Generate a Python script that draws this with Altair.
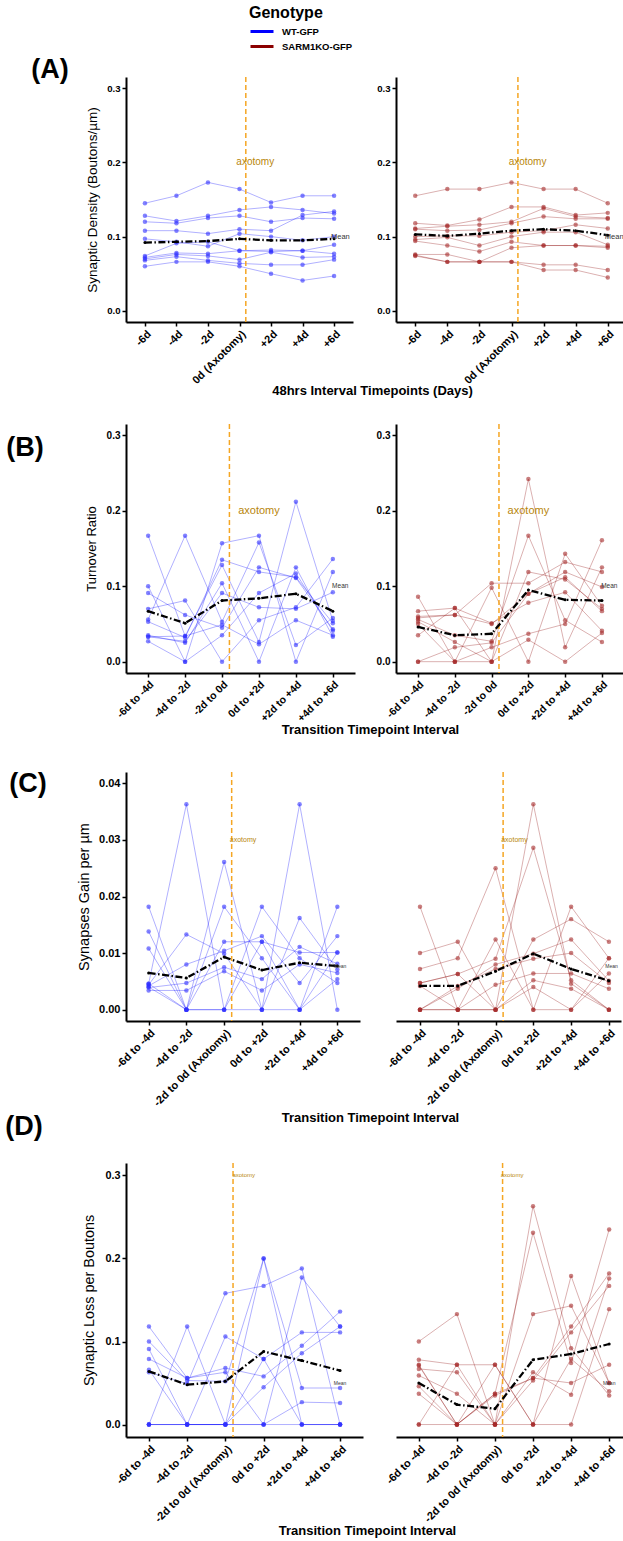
import altair as alt
import pandas as pd

FONT = "Liberation Sans"
GENOTYPES = ["WT-GFP", "SARM1KO-GFP"]
GENO_COLORS = ["#0000FF", "#8B0000"]
POINT_COLORS = {"WT-GFP": "#2F2FFF", "SARM1KO-GFP": "#A52A2A"}
AXOTOMY_COLOR = "#F5A623"
AXOTOMY_TEXT = "#B8860B"

DAY_LABELS = ["-6d", "-4d", "-2d", "0d (Axotomy)", "+2d", "+4d", "+6d"]
TURNOVER_LABELS = ["-6d to -4d", "-4d to -2d", "-2d to 0d", "0d to +2d", "+2d to +4d", "+4d to +6d"]
INTERVAL_LABELS = ["-6d to -4d", "-4d to -2d", "-2d to 0d (Axotomy)", "0d to +2d", "+2d to +4d", "+4d to +6d"]

# (A) synaptic density per axon, one list per axon across the seven imaging days
density_wt = [
    [0.145, 0.155, 0.173, 0.164, 0.146, 0.155, 0.155],
    [0.128, 0.121, 0.128, 0.136, 0.140, 0.136, 0.131],
    [0.120, 0.118, 0.125, 0.128, 0.120, 0.125, 0.124],
    [0.108, 0.108, 0.104, 0.110, 0.108, 0.129, 0.134],
    [0.097, 0.093, 0.087, 0.104, 0.100, 0.095, 0.100],
    [0.074, 0.091, 0.093, 0.081, 0.082, 0.081, 0.089],
    [0.072, 0.078, 0.077, 0.081, 0.080, 0.081, 0.077],
    [0.070, 0.076, 0.074, 0.069, 0.079, 0.072, 0.073],
    [0.068, 0.073, 0.068, 0.064, 0.062, 0.062, 0.069],
    [0.060, 0.066, 0.066, 0.060, 0.050, 0.041, 0.047],
]
density_ko = [
    [0.155, 0.164, 0.164, 0.173, 0.164, 0.164, 0.145],
    [0.118, 0.115, 0.123, 0.140, 0.140, 0.129, 0.132],
    [0.111, 0.114, 0.116, 0.120, 0.138, 0.127, 0.125],
    [0.110, 0.108, 0.109, 0.118, 0.127, 0.124, 0.124],
    [0.100, 0.101, 0.101, 0.106, 0.108, 0.116, 0.111],
    [0.096, 0.099, 0.088, 0.100, 0.106, 0.106, 0.089],
    [0.094, 0.088, 0.080, 0.093, 0.088, 0.088, 0.087],
    [0.076, 0.076, 0.066, 0.085, 0.088, 0.088, 0.085],
    [0.075, 0.066, 0.066, 0.066, 0.062, 0.062, 0.055],
    [0.074, 0.066, 0.066, 0.066, 0.055, 0.055, 0.045],
]
density_wt_mean = [0.092, 0.093, 0.094, 0.097, 0.095, 0.095, 0.097]
density_ko_mean = [0.103, 0.101, 0.104, 0.108, 0.110, 0.108, 0.102]

# (B) turnover ratio per 48 h interval
turnover_wt = [
    [0.167, 0.034, 0.128, 0.026, 0.212, 0.054],
    [0.100, 0.000, 0.157, 0.167, 0.000, 0.119],
    [0.091, 0.062, 0.045, 0.125, 0.111, 0.043],
    [0.070, 0.081, 0.000, 0.055, 0.072, 0.136],
    [0.056, 0.167, 0.053, 0.158, 0.022, 0.058],
    [0.053, 0.032, 0.135, 0.119, 0.112, 0.051],
    [0.035, 0.025, 0.104, 0.000, 0.125, 0.033],
    [0.033, 0.027, 0.091, 0.072, 0.070, 0.092],
    [0.027, 0.000, 0.035, 0.091, 0.117, 0.041],
    [0.033, 0.034, 0.049, 0.023, 0.055, 0.035],
]
turnover_ko = [
    [0.086, 0.000, 0.098, 0.000, 0.143, 0.074],
    [0.067, 0.071, 0.000, 0.242, 0.019, 0.125],
    [0.058, 0.062, 0.104, 0.104, 0.132, 0.119],
    [0.056, 0.035, 0.027, 0.167, 0.055, 0.026],
    [0.053, 0.026, 0.000, 0.119, 0.109, 0.070],
    [0.035, 0.071, 0.051, 0.078, 0.092, 0.041],
    [0.000, 0.019, 0.025, 0.090, 0.119, 0.099],
    [0.000, 0.000, 0.019, 0.037, 0.050, 0.161],
    [0.060, 0.062, 0.050, 0.090, 0.112, 0.067],
    [0.050, 0.000, 0.000, 0.029, 0.000, 0.038],
]
turnover_wt_mean = [0.067, 0.051, 0.081, 0.084, 0.090, 0.067]
turnover_ko_mean = [0.046, 0.035, 0.037, 0.095, 0.082, 0.081]

# (C) synapses gained per micrometre per interval
gain_wt = [
    [0.0182, 0.0000, 0.0261, 0.0000, 0.0363, 0.0000],
    [0.0138, 0.0000, 0.0120, 0.0120, 0.0101, 0.0101],
    [0.0108, 0.0000, 0.0182, 0.0091, 0.0000, 0.0182],
    [0.0046, 0.0363, 0.0000, 0.0182, 0.0091, 0.0047],
    [0.0044, 0.0133, 0.0099, 0.0000, 0.0162, 0.0071],
    [0.0042, 0.0080, 0.0104, 0.0130, 0.0047, 0.0130],
    [0.0039, 0.0047, 0.0075, 0.0054, 0.0111, 0.0081],
    [0.0034, 0.0034, 0.0068, 0.0034, 0.0080, 0.0065],
    [0.0046, 0.0000, 0.0000, 0.0120, 0.0000, 0.0054],
    [0.0040, 0.0000, 0.0000, 0.0000, 0.0000, 0.0101],
]
gain_ko = [
    [0.0182, 0.0000, 0.0124, 0.0000, 0.0182, 0.0091],
    [0.0100, 0.0120, 0.0000, 0.0363, 0.0046, 0.0000],
    [0.0072, 0.0091, 0.0250, 0.0000, 0.0000, 0.0064],
    [0.0047, 0.0063, 0.0090, 0.0286, 0.0052, 0.0000],
    [0.0042, 0.0000, 0.0000, 0.0124, 0.0160, 0.0120],
    [0.0000, 0.0037, 0.0080, 0.0099, 0.0124, 0.0051],
    [0.0000, 0.0042, 0.0072, 0.0090, 0.0100, 0.0047],
    [0.0000, 0.0000, 0.0044, 0.0064, 0.0064, 0.0037],
    [0.0047, 0.0063, 0.0000, 0.0052, 0.0037, 0.0000],
    [0.0000, 0.0000, 0.0000, 0.0040, 0.0000, 0.0091],
]
gain_wt_mean = [0.0065, 0.0056, 0.0093, 0.0070, 0.0083, 0.0077]
gain_ko_mean = [0.0042, 0.0042, 0.0068, 0.0099, 0.0072, 0.0051]

# (D) synapses lost per bouton per interval
loss_wt = [
    [0.063, 0.049, 0.158, 0.167, 0.188, 0.000],
    [0.000, 0.000, 0.000, 0.000, 0.000, 0.000],
    [0.000, 0.118, 0.000, 0.200, 0.044, 0.044],
    [0.118, 0.056, 0.063, 0.000, 0.177, 0.118],
    [0.100, 0.053, 0.052, 0.200, 0.000, 0.000],
    [0.091, 0.000, 0.106, 0.079, 0.111, 0.111],
    [0.079, 0.056, 0.068, 0.058, 0.095, 0.136],
    [0.066, 0.000, 0.000, 0.045, 0.086, 0.118],
    [0.000, 0.000, 0.000, 0.000, 0.027, 0.026],
    [0.000, 0.000, 0.000, 0.079, 0.000, 0.000],
]
loss_ko = [
    [0.100, 0.133, 0.000, 0.263, 0.092, 0.035],
    [0.078, 0.072, 0.072, 0.000, 0.179, 0.050],
    [0.072, 0.000, 0.037, 0.231, 0.074, 0.235],
    [0.067, 0.063, 0.000, 0.133, 0.143, 0.050],
    [0.071, 0.000, 0.035, 0.056, 0.118, 0.182],
    [0.059, 0.037, 0.000, 0.063, 0.036, 0.176],
    [0.046, 0.000, 0.000, 0.053, 0.111, 0.167],
    [0.037, 0.000, 0.072, 0.000, 0.000, 0.139],
    [0.000, 0.072, 0.000, 0.000, 0.079, 0.040],
    [0.000, 0.000, 0.037, 0.056, 0.050, 0.072],
]
loss_wt_mean = [0.064, 0.048, 0.052, 0.088, 0.077, 0.065]
loss_ko_mean = [0.050, 0.024, 0.019, 0.078, 0.085, 0.097]


def long_table(series, genotype):
    rows = []
    for i, vals in enumerate(series):
        for j, v in enumerate(vals):
            rows.append({"subject": f"{genotype}-{i + 1}", "t": j + 1, "value": v, "genotype": genotype})
    return pd.DataFrame(rows)


def mean_table(vals):
    return pd.DataFrame({"t": list(range(1, len(vals) + 1)), "value": vals})


COLOR = alt.Color(
    "genotype:N",
    scale=alt.Scale(domain=GENOTYPES, range=GENO_COLORS),
    legend=alt.Legend(
        title="Genotype", orient="none", legendX=123, legendY=-72,
        symbolType="stroke", symbolSize=529, symbolStrokeWidth=3, symbolOpacity=1,
        clipHeight=13, rowPadding=2, labelOffset=7, padding=0,
        labelFont=FONT, labelFontSize=9.5, labelFontWeight="bold", labelColor="black",
        titleFont=FONT, titleFontSize=16, titleFontWeight="bold", titleColor="black",
        titlePadding=4,
    ),
)


def panel(series, mean, geno, labels, width, height, ydom, yticks, yfmt,
          axo_x, axo_txt, mean_txt, xdom=None, show_y=True, y_title=None,
          tag=None, x_title=None, ylab_size=10, xlab_size=11):
    n = len(labels)
    if xdom is None:
        xdom = [0.4, n + 0.6]
    label_expr = "[" + ",".join(f"'{s}'" for s in labels) + "][datum.value - 1]"
    xkw = dict(
        values=list(range(1, n + 1)), labelExpr=label_expr, labelAngle=-45,
        labelAlign="right", labelBaseline="top", labelOverlap=False, labelFlush=False,
        labelFontSize=xlab_size, labelPadding=2, grid=False,
    )
    if x_title is not None:
        xkw.update(title=x_title[0], titleX=x_title[1], titleY=x_title[2],
                   titleAlign="center", titleBaseline="middle", titleFontSize=13,
                   titleFontWeight="bold", titleColor="black")
    else:
        xkw["title"] = None
    X = alt.X("t:Q", scale=alt.Scale(domain=xdom, nice=False, zero=False), axis=alt.Axis(**xkw))

    if show_y:
        ykw = dict(values=yticks, format=yfmt, labelFlush=False, grid=False,
                   labelFontSize=ylab_size, labelPadding=2)
        if y_title is not None:
            ykw.update(title=y_title[0], titlePadding=y_title[1], titleFontSize=y_title[2],
                       titleFontWeight="normal", titleColor="black")
        else:
            ykw["title"] = None
        y_axis = alt.Axis(**ykw)
    else:
        y_axis = None
    Y = alt.Y("value:Q", scale=alt.Scale(domain=ydom, nice=False, zero=False), axis=y_axis)

    subj = long_table(series, geno)
    means = mean_table(mean)

    lines = alt.Chart(subj).mark_line(strokeWidth=0.9, opacity=0.35).encode(
        x=X, y=Y, detail="subject:N", color=COLOR)
    points = alt.Chart(subj).mark_circle(size=20, opacity=0.6, color=POINT_COLORS[geno]).encode(x=X, y=Y)
    axo = alt.Chart(pd.DataFrame({"t": [axo_x]})).mark_rule(
        color=AXOTOMY_COLOR, strokeDash=[5, 3], strokeWidth=1.5).encode(x=X)
    mean_line = alt.Chart(means).mark_line(
        color="black", strokeWidth=2.3, strokeDash=[7, 2.5, 1.5, 2.5]).encode(x=X, y=Y)
    mean_pts = alt.Chart(means).mark_circle(color="black", size=9, opacity=1).encode(x=X, y=Y)
    axo_label = alt.Chart(pd.DataFrame({"t": [axo_txt[0]], "value": [axo_txt[1]], "txt": ["axotomy"]})).mark_text(
        color=AXOTOMY_TEXT, fontSize=axo_txt[2], font=FONT).encode(x=X, y=Y, text="txt:N")
    mean_label = alt.Chart(pd.DataFrame({"t": [mean_txt[0]], "value": [mean_txt[1]], "txt": ["Mean"]})).mark_text(
        color="#333333", fontSize=mean_txt[2], font=FONT).encode(x=X, y=Y, text="txt:N")

    layers = [lines, points, axo, mean_line, mean_pts, axo_label, mean_label]
    if tag is not None:
        layers.append(
            alt.Chart(pd.DataFrame({"txt": [tag[0]]})).mark_text(
                fontSize=27, fontWeight="bold", font=FONT, color="black",
                align="center", baseline="middle").encode(
                x=alt.value(tag[1]), y=alt.value(tag[2]), text="txt:N"))
    return alt.layer(*layers).properties(width=width, height=height)


def spacer(w, h):
    return alt.Chart(pd.DataFrame({"t": [0]})).mark_point(opacity=0).encode(
        x=alt.X("t:Q", axis=None), y=alt.Y("t:Q", axis=None)).properties(width=w, height=h)


Y03 = [-0.015, 0.315]
T03 = [0.0, 0.1, 0.2, 0.3]
Y04 = [-0.002, 0.042]
T04 = [0.0, 0.01, 0.02, 0.03, 0.04]

a_left = panel(density_wt, density_wt_mean, "WT-GFP", DAY_LABELS, 227, 245, Y03, T03, ".1f",
               4.2, (4.5, 0.2, 10), (7.2, 0.1, 7.5),
               y_title=("Synaptic Density (Boutons/\u00b5m)", 7, 13.5), tag=("(A)", -76, -7),
               x_title=("48hrs Interval Timepoints (Days)", 246, 68), ylab_size=9.6)
a_right = panel(density_ko, density_ko_mean, "SARM1KO-GFP", DAY_LABELS, 231, 245, Y03, T03, ".1f",
                4.2, (4.5, 0.2, 10), (7.2, 0.1, 7.5), ylab_size=9.6)

b_left = panel(turnover_wt, turnover_wt_mean, "WT-GFP", TURNOVER_LABELS, 229, 249, Y03, T03, ".1f",
               3.2, (4.0, 0.2, 11), (6.2, 0.1, 6.5),
               y_title=("Turnover Ratio", 8, 13), tag=("(B)", -101, 24),
               x_title=("Transition Timepoint Interval", 244, 56), ylab_size=10, xlab_size=10.5)
b_right = panel(turnover_ko, turnover_ko_mean, "SARM1KO-GFP", TURNOVER_LABELS, 228, 249, Y03, T03, ".1f",
                3.2, (4.0, 0.2, 11), (6.2, 0.1, 6.5), ylab_size=10, xlab_size=10.5)

c_left = panel(gain_wt, gain_wt_mean, "WT-GFP", INTERVAL_LABELS, 234, 249, Y04, T04, ".2f",
               3.2, (3.5, 0.03, 7), (6.07, 0.0078, 5),
               y_title=("Synapses Gain per \u00b5m", 7, 14.5), tag=("(C)", -98, 12),
               x_title=("Transition Timepoint Interval", 244, 96), ylab_size=11)
c_right = panel(gain_ko, gain_ko_mean, "SARM1KO-GFP", INTERVAL_LABELS, 225, 249, Y04, T04, ".2f",
                3.2, (3.5, 0.03, 7), (6.07, 0.0078, 5), xdom=[0.365, 6.32], show_y=False)

d_left = panel(loss_wt, loss_wt_mean, "WT-GFP", INTERVAL_LABELS, 237, 274, Y03, T03, ".1f",
               3.2, (3.48, 0.3, 6), (6.0, 0.05, 5),
               y_title=("Synaptic Loss per Boutons", 8, 14.4), tag=("(D)", -102, -36),
               x_title=("Transition Timepoint Interval", 241, 93), ylab_size=10.8)
d_right = panel(loss_ko, loss_ko_mean, "SARM1KO-GFP", INTERVAL_LABELS, 236, 274, Y03, T03, ".1f",
                3.2, (3.45, 0.3, 6), (6.0, 0.05, 5), show_y=False)

cells = [
    a_left, spacer(33, 245), a_right,
    spacer(227, 102), spacer(33, 102), spacer(231, 102),
    b_left, spacer(32, 249), b_right,
    spacer(229, 99), spacer(32, 99), spacer(228, 99),
    c_left, spacer(9, 249), c_right,
    spacer(234, 142), spacer(9, 142), spacer(225, 142),
    d_left, spacer(7, 274), d_right,
]

chart = alt.concat(*cells, columns=3, spacing=0, bounds="flush", align="none").properties(
    autosize=alt.AutoSizeParams(type="none"),
    padding={"left": 126, "top": 77, "right": 497, "bottom": 1464},
).configure_view(stroke=None).configure_axis(
    domainColor="black", domainWidth=2, tickColor="black", tickWidth=1.5, tickSize=4,
    labelFont=FONT, labelFontWeight="bold", labelColor="black",
    titleFont=FONT,
)

chart.save("out.html", embed_options={"renderer": "svg", "actions": False})
